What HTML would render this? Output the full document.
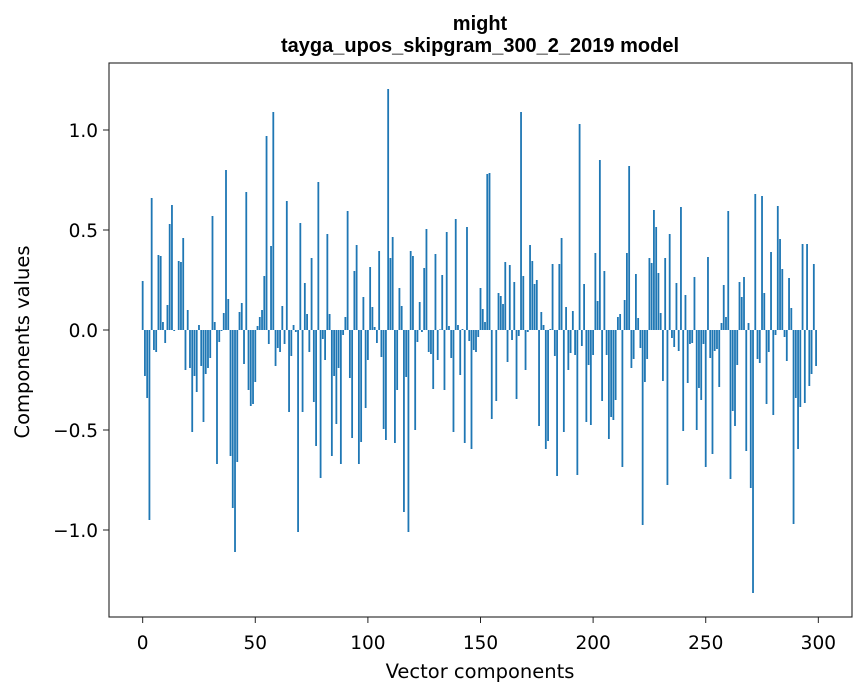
<!DOCTYPE html>
<html><head><meta charset="utf-8"><style>
body{margin:0;background:#fff;font-family:"DejaVu Sans",sans-serif}
</style></head><body>
<svg id="chart" width="867" height="696" xmlns="http://www.w3.org/2000/svg" font-family="DejaVu Sans, sans-serif">
<rect width="867" height="696" fill="#fff"/>
<text x="480" y="30" text-anchor="middle" font-size="20" font-weight="bold" font-family="Liberation Sans, sans-serif">might</text>
<text x="480" y="52" text-anchor="middle" font-size="20" font-weight="bold" font-family="Liberation Sans, sans-serif">tayga_upos_skipgram_300_2_2019 model</text>
<g id="bars"></g>
<g id="axes"></g>
<rect x="109" y="63" width="743" height="554" fill="none" stroke="#222" stroke-width="1.1"/>
<text x="480" y="678" text-anchor="middle" font-size="19.5">Vector components</text>
<text transform="translate(29,342) rotate(-90)" text-anchor="middle" font-size="19.5">Components values</text>
</svg>
<script>
const values = [0.245,-0.23,-0.34,-0.95,0.66,-0.1,-0.11,0.375,0.37,0.04,-0.065,0.125,0.53,0.625,-0.005,0,0.345,0.34,0.46,-0.2,
0.1,-0.19,-0.51,-0.23,-0.31,0.025,-0.18,-0.46,-0.22,-0.19,-0.14,0.57,0.04,-0.67,-0.06,-0.005,0.085,0.8,0.155,-0.63,
-0.89,-1.11,-0.66,0.09,0.135,-0.17,0.69,-0.3,-0.38,-0.37,-0.26,0.02,0.065,0.1,0.27,0.97,-0.07,0.42,1.09,-0.18,
-0.09,-0.11,0.12,-0.07,0.645,-0.41,-0.13,0.025,-0.01,-1.01,0.535,-0.41,0.235,0.08,-0.11,0.36,-0.36,-0.58,0.74,-0.74,
-0.045,-0.15,0.48,0.08,-0.63,-0.23,-0.47,-0.19,-0.67,-0.025,0.065,0.595,-0.24,-0.54,0.295,0.425,-0.67,-0.56,0.165,-0.39,
-0.15,0.315,0.115,0.015,-0.065,0.395,-0.135,-0.495,-0.55,1.205,0.36,0.465,-0.565,-0.3,0.21,0.12,-0.91,-0.235,-1.01,0.395,
0.37,-0.5,-0.06,0.14,-0.01,0.31,0.505,-0.11,-0.12,-0.295,0.38,-0.15,0.003,0.275,-0.3,0.49,0.02,-0.14,-0.51,0.555,
0.025,-0.225,0.005,-0.565,0.515,-0.055,-0.595,-0.1,-0.11,-0.035,0.21,0.105,0.04,0.78,0.785,-0.445,0,-0.355,0.185,0.17,
0.13,0.34,-0.16,0.325,-0.05,0.24,-0.345,-0.03,1.09,0.27,-0.2,-0.01,0.425,0.345,0.23,0.25,-0.48,0.09,0.025,-0.595,
-0.555,0.005,0.33,-0.13,-0.73,0.33,0.46,-0.51,0.115,-0.2,-0.115,0.095,-0.125,-0.725,1.03,-0.08,0.23,-0.46,-0.175,-0.475,
-0.125,0.385,0.145,0.85,-0.355,0.295,-0.125,-0.545,-0.435,-0.45,-0.35,0.065,0.08,-0.685,0.15,0.385,0.82,-0.19,-0.145,0.28,
0.06,-0.09,-0.975,-0.26,-0.145,0.36,0.335,0.6,0.515,0.285,0.085,-0.255,0.36,-0.775,0.48,-0.04,-0.085,0.235,-0.105,0.615,
-0.505,0.175,-0.265,-0.07,-0.065,0.265,-0.5,-0.29,-0.35,-0.07,-0.685,0.365,-0.14,-0.62,-0.105,-0.095,-0.285,0.035,0.225,0.065,
0.595,-0.745,-0.405,-0.48,-0.175,0.24,0.165,0.265,-0.605,0.035,-0.79,-1.315,0.68,-0.145,-0.165,0.67,0.185,-0.37,-0.11,0.39,
-0.425,-0.025,0.62,0.455,0.305,-0.035,-0.155,0.26,0.11,-0.97,-0.34,-0.595,-0.385,0.43,-0.365,0.43,-0.28,-0.22,0.33,-0.18];
const xTicks = [0,50,100,150,200,250,300];
const yTicks = [-1.0,-0.5,0.0,0.5,1.0];
const yTickLabels = ["\u22121.0","\u22120.5","0.0","0.5","1.0"];

const L=109,R=852,T=63,B=617;
const xMin=-14.95,xMax=314.95,yMin=-1.435,yMax=1.335;
function xs(v){return L+(v-xMin)/(xMax-xMin)*(R-L);}
function ys(v){return B-(v-yMin)/(yMax-yMin)*(B-T);}
const NS="http://www.w3.org/2000/svg";
const bars=document.getElementById('bars');
values.forEach((v,i)=>{
  const r=document.createElementNS(NS,'rect');
  const x0=xs(i-0.4),x1=xs(i+0.4);
  const y0=ys(Math.max(v,0)),y1=ys(Math.min(v,0));
  r.setAttribute('x',x0);r.setAttribute('width',x1-x0);
  r.setAttribute('y',y0);r.setAttribute('height',Math.max(y1-y0,0));
  r.setAttribute('fill','#1f77b4');
  
  
  bars.appendChild(r);
});
const axes=document.getElementById('axes');
xTicks.forEach(t=>{
  const x=xs(t);
  const l=document.createElementNS(NS,'line');
  l.setAttribute('x1',x);l.setAttribute('x2',x);l.setAttribute('y1',B);l.setAttribute('y2',B+6);
  l.setAttribute('stroke','#222');
  
  
  axes.appendChild(l);
  const tx=document.createElementNS(NS,'text');
  tx.setAttribute('x',x);tx.setAttribute('y',B+32);tx.setAttribute('text-anchor','middle');tx.setAttribute('font-size','18.5');
  tx.textContent=t;
  
  
  axes.appendChild(tx);
});
yTicks.forEach((t,i)=>{
  const y=ys(t);
  const l=document.createElementNS(NS,'line');
  l.setAttribute('x1',L-6);l.setAttribute('x2',L);l.setAttribute('y1',y);l.setAttribute('y2',y);
  l.setAttribute('stroke','#222');
  
  
  axes.appendChild(l);
  const tx=document.createElementNS(NS,'text');
  tx.setAttribute('x',L-11);tx.setAttribute('y',y+7);tx.setAttribute('text-anchor','end');tx.setAttribute('font-size','18.5');
  tx.textContent=yTickLabels[i];
  
  
  axes.appendChild(tx);
});
</script>
</body></html>
